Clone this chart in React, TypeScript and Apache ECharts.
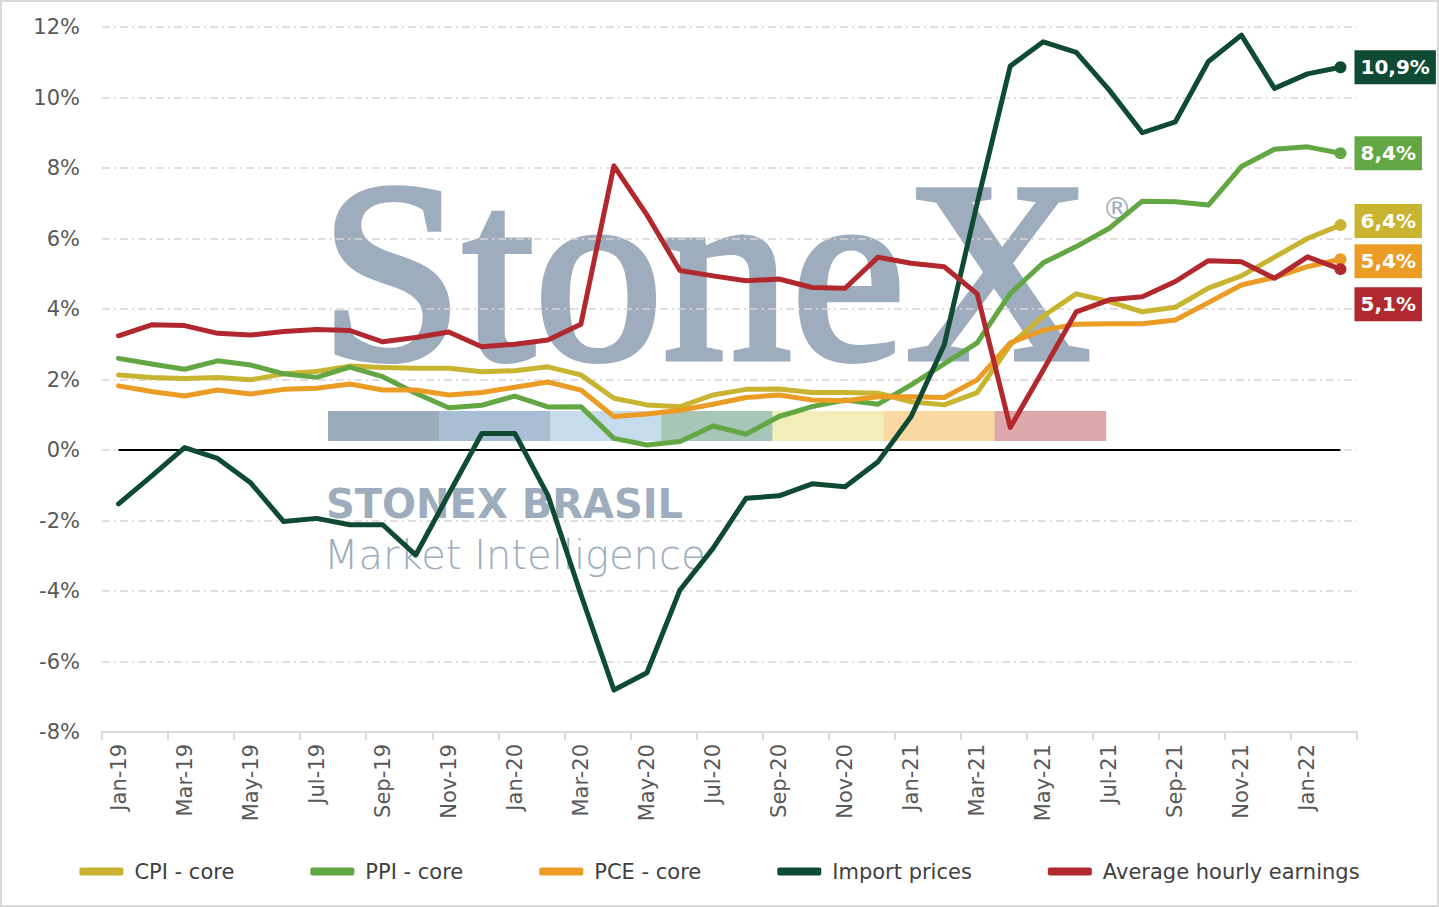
import React, { useEffect, useRef } from 'react';
import * as echarts from 'echarts';

const months = [
  'Jan-19', 'Feb-19', 'Mar-19', 'Apr-19', 'May-19', 'Jun-19', 'Jul-19', 'Aug-19', 'Sep-19', 'Oct-19', 'Nov-19', 'Dec-19',
  'Jan-20', 'Feb-20', 'Mar-20', 'Apr-20', 'May-20', 'Jun-20', 'Jul-20', 'Aug-20', 'Sep-20', 'Oct-20', 'Nov-20', 'Dec-20',
  'Jan-21', 'Feb-21', 'Mar-21', 'Apr-21', 'May-21', 'Jun-21', 'Jul-21', 'Aug-21', 'Sep-21', 'Oct-21', 'Nov-21', 'Dec-21',
  'Jan-22', 'Feb-22',
];

const cpiCore = [
  2.13, 2.06, 2.03, 2.06, 1.99, 2.16, 2.23, 2.38, 2.34, 2.32, 2.32, 2.22,
  2.25, 2.36, 2.13, 1.47, 1.28, 1.23, 1.56, 1.72, 1.73, 1.63, 1.63, 1.61,
  1.37, 1.28, 1.63, 2.98, 3.80, 4.43, 4.21, 3.92, 4.05, 4.59, 4.94, 5.47,
  6.0, 6.38,
];

const ppiCore = [
  2.60, 2.44, 2.29, 2.53, 2.41, 2.16, 2.06, 2.35, 2.08, 1.61, 1.20, 1.27,
  1.53, 1.22, 1.23, 0.33, 0.14, 0.24, 0.68, 0.45, 0.95, 1.23, 1.42, 1.30,
  1.85, 2.44, 3.04, 4.44, 5.31, 5.77, 6.29, 7.06, 7.04, 6.95, 8.04, 8.53,
  8.60, 8.42,
];

const pceCore = [
  1.82, 1.66, 1.53, 1.70, 1.59, 1.72, 1.75, 1.87, 1.70, 1.70, 1.56, 1.63,
  1.78, 1.93, 1.70, 0.95, 1.02, 1.13, 1.30, 1.49, 1.56, 1.42, 1.40, 1.51,
  1.51, 1.49, 1.99, 3.04, 3.40, 3.57, 3.58, 3.58, 3.69, 4.18, 4.68, 4.90,
  5.20, 5.41,
];

const importPrices = [
  -1.53, -0.74, 0.07, -0.24, -0.93, -2.03, -1.94, -2.12, -2.12, -2.98, -1.25, 0.47,
  0.47, -1.28, -4.1, -6.81, -6.32, -3.97, -2.79, -1.37, -1.30, -0.96, -1.04, -0.33,
  0.95, 2.98, 7.0, 10.89, 11.58, 11.28, 10.21, 9.0, 9.31, 11.02, 11.77, 10.26,
  10.67, 10.86,
];

const hourlyEarnings = [
  3.24, 3.55, 3.53, 3.31, 3.26, 3.36, 3.42, 3.39, 3.07, 3.19, 3.35, 2.93,
  3.0, 3.12, 3.57, 8.06, 6.67, 5.09, 4.94, 4.80, 4.85, 4.61, 4.59, 5.47,
  5.3, 5.2, 4.43, 0.64, 2.27, 3.92, 4.26, 4.35, 4.78, 5.37, 5.34, 4.87,
  5.48, 5.13,
];

const seriesNames = ['CPI - core', 'PPI - core', 'PCE - core', 'Import prices', 'Average hourly earnings'];
const seriesValues = [cpiCore, ppiCore, pceCore, importPrices, hourlyEarnings];
const seriesColors = ['#c8b430', '#62a744', '#eb9c25', '#0f4a33', '#b1282e'];
const endLabelShiftY = [-4, 0, 2, 0, 35];

const yTicks = { min: -8, max: 12, interval: 2 };

const stripColors = ['#9aabbb', '#a9bdd4', '#c6dcec', '#a8c6b8', '#f3edba', '#f9d9a1', '#dda9ab'];
const WM = '#9dadbd';
const FONT = '"DejaVu Sans", "Noto Sans", sans-serif';

export default function App() {
  const ref = useRef<HTMLDivElement>(null);

  useEffect(() => {
    if (!ref.current) return;
    const chart = echarts.init(ref.current, undefined, { renderer: 'svg' });

    const lineSeries = seriesValues.map((vals, si) => {
      const last = vals.length - 1;
      return {
        name: seriesNames[si],
        type: 'line',
        z: 3,
        showSymbol: true,
        showAllSymbol: true,
        symbol: 'circle',
        symbolSize: 12,
        silent: true,
        color: seriesColors[si],
        lineStyle: { width: 5, color: seriesColors[si], cap: 'round', join: 'round' },
        itemStyle: { color: seriesColors[si] },
        data: vals.map((v, i) =>
          i === last
            ? {
                value: v,
                symbol: 'circle',
                symbolSize: 12,
                label: {
                  show: true,
                  position: 'right',
                  distance: 8,
                  offset: [0, endLabelShiftY[si]],
                  formatter: (p: any) => Number(p.value).toFixed(1).replace('.', ',') + '%',
                  backgroundColor: seriesColors[si],
                  color: '#ffffff',
                  fontFamily: FONT,
                  fontWeight: 'bold',
                  fontSize: 20,
                  lineHeight: 20,
                  padding: [7, 6, 7, 6],
                },
              }
            : { value: v, symbol: 'none' }
        ),
      };
    });

    const zeroLine = {
      name: 'zero',
      type: 'line',
      z: 2,
      silent: true,
      symbol: 'none',
      lineStyle: { color: '#000000', width: 2 },
      data: months.map(() => 0),
    };

    const graphic: any[] = [
      {
        type: 'rect',
        z: 100,
        silent: true,
        shape: { x: 1, y: 1, width: 1437, height: 905 },
        style: { fill: 'none', stroke: '#d9d9d9', lineWidth: 2 },
      },
      ...stripColors.map((c, i) => ({
        type: 'rect',
        z: -1,
        silent: true,
        shape: { x: 328 + i * 111.1, y: 411, width: 111.6, height: 30 },
        style: { fill: c },
      })),
      {
        type: 'text',
        z: -1,
        silent: true,
        style: {
          text: 'StoneX',
          x: 320,
          y: 272,
          font: '257px "Liberation Serif", serif',
          fill: WM,
          stroke: WM,
          lineWidth: 6,
          align: 'left',
          verticalAlign: 'middle',
          textAlign: 'left',
          textVerticalAlign: 'middle',
        },
      },
      {
        type: 'text',
        z: -1,
        silent: true,
        style: {
          text: '®',
          x: 1117,
          y: 208,
          font: '30px "DejaVu Sans", sans-serif',
          fill: WM,
          align: 'center',
          verticalAlign: 'middle',
          textAlign: 'center',
          textVerticalAlign: 'middle',
        },
      },
      {
        type: 'text',
        z: -1,
        silent: true,
        style: {
          text: 'STONEX BRASIL',
          x: 326,
          y: 504,
          font: 'bold 40px "DejaVu Sans", sans-serif',
          fill: WM,
          align: 'left',
          verticalAlign: 'middle',
          textAlign: 'left',
          textVerticalAlign: 'middle',
        },
      },
      {
        type: 'text',
        z: -1,
        silent: true,
        style: {
          text: 'Market Intelligence',
          x: 324,
          y: 555,
          font: '200 40px "DejaVu Sans", sans-serif',
          fill: WM,
          align: 'left',
          verticalAlign: 'middle',
          textAlign: 'left',
          textVerticalAlign: 'middle',
        },
      },
    ];

    chart.setOption({
      animation: false,
      backgroundColor: '#ffffff',
      textStyle: { fontFamily: FONT },
      grid: { left: 102, right: 82, top: 27, bottom: 175, containLabel: false },
      legend: {
        data: seriesNames,
        top: 856,
        left: 'center',
        icon: 'roundRect',
        itemWidth: 44,
        itemHeight: 8,
        itemGap: 76,
        textStyle: { fontFamily: FONT, fontSize: 21, color: '#404040', padding: [0, 0, 0, 6] },
        selectedMode: false,
      },
      xAxis: {
        type: 'category',
        data: months,
        boundaryGap: true,
        axisLine: { show: true, onZero: false, lineStyle: { color: '#d9d9d9', width: 2 } },
        axisTick: { show: true, interval: 1, length: 8, lineStyle: { color: '#d9d9d9', width: 2 } },
        axisLabel: { interval: 1, rotate: 90, margin: 12, fontSize: 21, color: '#595959', fontFamily: FONT },
        splitLine: { show: false },
      },
      yAxis: {
        type: 'value',
        min: yTicks.min,
        max: yTicks.max,
        interval: yTicks.interval,
        axisLine: { show: false },
        axisTick: { show: false },
        axisLabel: { formatter: '{value}%', fontSize: 21, color: '#595959', margin: 22, fontFamily: FONT },
        splitLine: { show: true, lineStyle: { color: '#d9d4d6', width: 1.5, type: [8, 4, 2, 4] } },
      },
      graphic,
      series: [zeroLine, ...lineSeries],
    });

    return () => chart.dispose();
  }, []);

  return (
    <div
      ref={ref}
      style={{ position: 'fixed', left: 0, top: 0, width: 1439, height: 907, background: '#ffffff' }}
    />
  );
}
